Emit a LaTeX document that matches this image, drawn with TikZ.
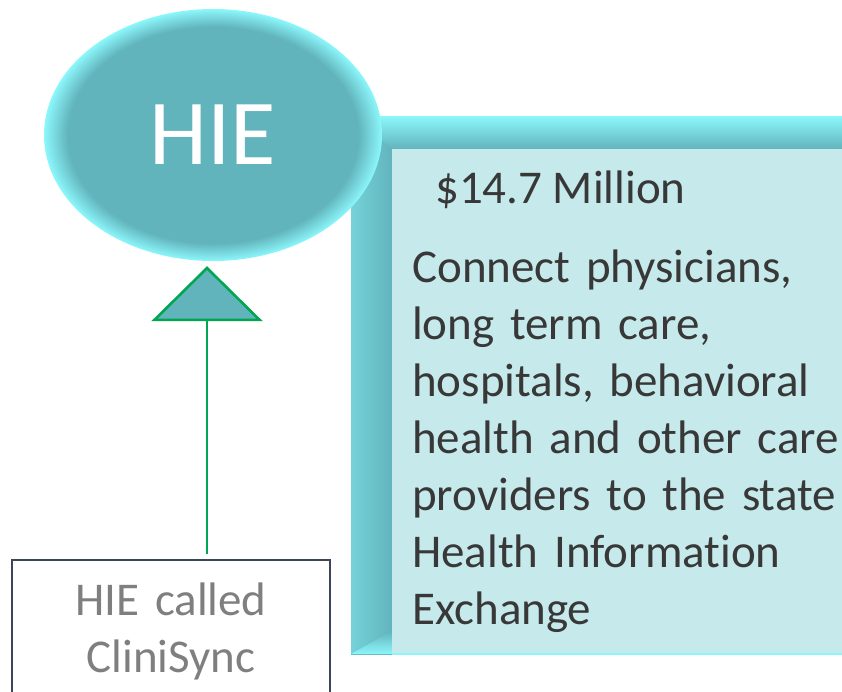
\documentclass[tikz,border=0pt]{standalone}
\usepackage{fontspec}
\setmainfont{Carlito}[Ligatures=NoCommon]
\usetikzlibrary{shapes, arrows.meta, positioning}

\definecolor{hiefill}{HTML}{62B4BC}
\definecolor{hieglow}{HTML}{8CF7FB}
\definecolor{panelfill}{HTML}{C6EAEC}
\definecolor{paneltext}{HTML}{383838}
\definecolor{linkgreen}{HTML}{00A651}
\definecolor{boxline}{HTML}{3B4658}
\definecolor{greytext}{HTML}{7F7F7F}

\pgfdeclareradialshading{hieshade}{\pgfpoint{0bp}{0bp}}{color(0bp)=(hiefill); color(21.5bp)=(hiefill); color(25bp)=(hieglow); color(50bp)=(hieglow)}

\begin{document}
\begin{tikzpicture}[x=1pt, y=-1pt,
  bigtext/.style={text=paneltext, inner sep=0pt, font=\fontsize{47}{57}\selectfont},
  link/.style={draw=linkgreen, line width=2.6pt, -{Triangle[width=111pt, length=55pt, fill=hiefill]}}]

\useasboundingbox (0,0) rectangle (842,691);
\clip (0,0) rectangle (842,691);

% bevelled panel
\fill[hiefill] (351,116) rectangle (860,655);
\shade[top color=hieglow, bottom color=hiefill] (351,116) -- (860,116) -- (860,149) -- (392,149) -- cycle;
\shade[left color=hieglow!45!hiefill, right color=hiefill] (351,116) -- (392,149) -- (392,654) -- (351,654) -- cycle;
\shade[top color=hiefill, bottom color=hieglow] (351,654) -- (392,631) -- (392,654) -- cycle;
\fill[panelfill] (392,149) rectangle (860,653);
\fill[hieglow] (392,653) rectangle (860,655);

\node[ellipse, shade, shading=hieshade, minimum width=338pt, minimum height=252pt, inner sep=0pt, text=white, font=\fontsize{93}{100}\selectfont] (hie) at (213,135) {HIE};

\node[bigtext, anchor=base west] (amount) at (435,203) {\$14.7 Million};
\node[bigtext, anchor=base west, text width=430pt, align=left] (purpose) at (412,282) {Connect physicians,\\ long term care,\\ hospitals, behavioral\\ health and other care\\ providers to the state\\ Health Information\\ Exchange};

\node[bigtext, draw=boxline, line width=1.5pt, text=greytext, anchor=base, text width=318pt, align=center, text height=55pt, text depth=140pt] (clini) at (171,615) {HIE called\\ CliniSync};

\draw[link, shorten <=5pt, shorten >=5pt] ([xshift=36pt]clini.north) -- ([xshift=-6pt]hie.south);

\end{tikzpicture}
\end{document}
